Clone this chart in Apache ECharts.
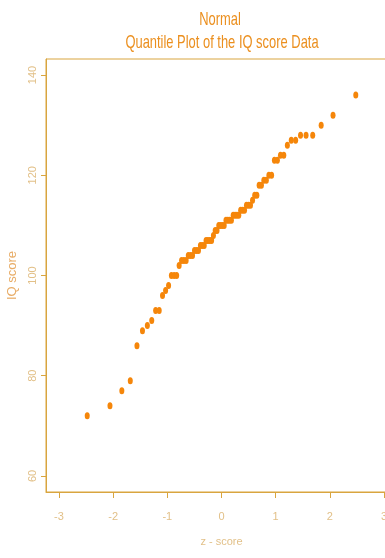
<!DOCTYPE html>
<html>
<head>
<meta charset="utf-8">
<script src="https://cdn.jsdelivr.net/npm/echarts@6/dist/echarts.min.js"></script>
<style>html,body{margin:0;padding:0;background:#fff;}#c{width:385px;height:558px;}</style>
</head>
<body>
<div id="c"></div>
<script>
// theoretical normal quantiles (z - score)
const zScores = [-2.479,-2.059,-1.840,-1.684,-1.561,-1.459,-1.369,-1.288,-1.216,-1.150,
  -1.089,-1.032,-0.977,-0.925,-0.875,-0.828,-0.782,-0.737,-0.695,-0.653,
  -0.613,-0.573,-0.535,-0.498,-0.461,-0.425,-0.389,-0.354,-0.319,-0.285,
  -0.251,-0.216,-0.183,-0.149,-0.116,-0.083,-0.050,-0.017,0.017,0.050,
  0.083,0.116,0.149,0.183,0.216,0.251,0.285,0.319,0.354,0.389,
  0.425,0.461,0.498,0.535,0.573,0.613,0.653,0.695,0.737,0.782,
  0.828,0.875,0.925,0.977,1.032,1.089,1.150,1.216,1.288,1.369,
  1.459,1.561,1.684,1.840,2.059,2.479];
// sorted IQ scores
const iqScores = [72,74,77,79,86,89,90,91,93,93,
  96,97,98,100,100,100,102,103,103,103,
  104,104,104,105,105,105,106,106,106,107,
  107,107,107,108,109,109,110,110,110,110,
  111,111,111,111,112,112,112,112,113,113,
  113,114,114,114,115,116,116,118,118,119,
  119,120,120,123,123,124,124,126,127,127,
  128,128,128,130,132,136];
const xTicks = [-3,-2,-1,0,1,2,3];
const yTicks = [60,80,100,120,140];
const titleLines = ['Normal','Quantile Plot of the IQ score Data'];

const axisCol = '#D9A53F';
const labCol = '#E2C088';
const font = '"Liberation Sans Narrow","Arial Narrow","Liberation Sans",Arial,sans-serif';

const chart = echarts.init(document.getElementById('c'), null, {renderer:'canvas'});
chart.setOption({
  animation:false,
  backgroundColor:'#ffffff',
  graphic:[
    {type:'text', x:220, y:20, scaleX:0.68, style:{text:titleLines[0], fontSize:19, fontFamily:'"Liberation Sans",Arial,sans-serif', fill:'#EB8F1E', align:'center', verticalAlign:'middle'}},
    {type:'text', x:222, y:43, scaleX:0.68, style:{text:titleLines[1], fontSize:19, fontFamily:'"Liberation Sans",Arial,sans-serif', fill:'#EB8F1E', align:'center', verticalAlign:'middle'}}
  ],
  grid:{left:46, width:351, top:59, bottom:66, show:true, borderColor:axisCol, borderWidth:1, containLabel:false, outerBoundsMode:'none'},
  xAxis:{
    type:'value', min:-3.24, max:3.24,
    name:'z - score', nameLocation:'middle', nameGap:44,
    nameTextStyle:{color:labCol, fontSize:11, fontFamily:font},
    axisLine:{show:true, onZero:false, lineStyle:{color:axisCol, width:1}},
    axisTick:{show:true, length:6, customValues:xTicks, lineStyle:{color:axisCol}},
    axisLabel:{color:labCol, fontSize:11, fontFamily:font, margin:19, customValues:xTicks},
    splitLine:{show:false}
  },
  yAxis:{
    type:'value', min:56.8, max:143.2,
    name:'IQ score', nameLocation:'middle', nameGap:14, nameRotate:90,
    nameTextStyle:{color:'#E8AC66', fontSize:13, fontFamily:'"Liberation Sans",Arial,sans-serif'},
    axisLine:{show:true, onZero:false, lineStyle:{color:axisCol, width:1}},
    axisTick:{show:true, length:5, customValues:yTicks, lineStyle:{color:axisCol}},
    axisLabel:{color:labCol, fontSize:11, fontFamily:font, margin:8, rotate:90, customValues:yTicks},
    splitLine:{show:false}
  },
  series:[{
    type:'scatter',
    data:zScores.map((z,i)=>[z, iqScores[i]]),
    symbol:'circle', symbolSize:[5,7],
    itemStyle:{color:'#F5860A', opacity:1}
  }]
});
</script>
</body>
</html>
